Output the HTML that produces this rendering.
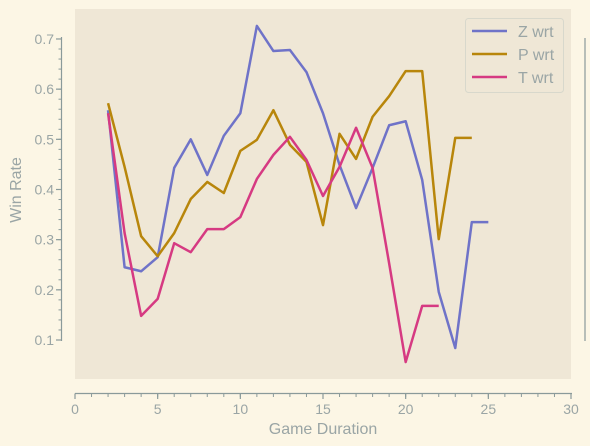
<!DOCTYPE html>
<html><head><meta charset="utf-8"><style>
body{margin:0;background:#fcf6e5;}
svg{display:block;font-family:"Liberation Sans",sans-serif;}
</style></head><body>
<svg id="c" width="590" height="446">
<rect x="0" y="0" width="590" height="446" fill="#fcf6e5"/>
<rect x="75" y="9" width="496" height="370" fill="#efe7d6"/>
<g id="axes"></g>
<g id="lines"></g>
<line x1="585" y1="38" x2="585" y2="341" stroke="#8a9a9a" stroke-width="1.2"/>
<text x="323" y="434" text-anchor="middle" font-size="16" fill="#9aa5a5">Game Duration</text>
<text x="21" y="190" text-anchor="middle" font-size="16" fill="#9aa5a5" transform="rotate(-90 21 190)">Win Rate</text>
<g>
<rect x="465.5" y="18.5" width="98" height="74" rx="3" fill="#efe7d6" stroke="#d8d8cc"/>
<line x1="472" y1="31" x2="507" y2="31" stroke="#6f73c8" stroke-width="2.5"/>
<text x="518" y="37" font-size="16" fill="#9aa5a5">Z wrt</text>
<line x1="472" y1="54" x2="507" y2="54" stroke="#b8860b" stroke-width="2.5"/>
<text x="518" y="60" font-size="16" fill="#9aa5a5">P wrt</text>
<line x1="472" y1="77" x2="507" y2="77" stroke="#d63a82" stroke-width="2.5"/>
<text x="518" y="83" font-size="16" fill="#9aa5a5">T wrt</text>
</g>
</svg>
<script>
const zX=[2,3,4,5,6,7,8,9,10,11,12,13,14,15,16,17,18,19,20,21,22,23,24,25];
const zVals=[0.558,0.245,0.237,0.265,0.443,0.50,0.429,0.507,0.552,0.726,0.676,0.678,0.634,0.552,0.449,0.363,0.443,0.528,0.536,0.419,0.196,0.084,0.335,0.335];
const pX=[2,3,4,5,6,7,8,9,10,11,12,13,14,15,16,17,18,19,20,21,22,23,24];
const pVals=[0.572,0.445,0.307,0.267,0.313,0.381,0.415,0.393,0.477,0.499,0.558,0.489,0.455,0.329,0.511,0.461,0.545,0.586,0.636,0.636,0.301,0.503,0.503];
const tX=[2,3,4,5,6,7,8,9,10,11,12,13,14,15,16,17,18,19,20,21,22];
const tVals=[0.552,0.313,0.148,0.182,0.293,0.275,0.321,0.321,0.345,0.421,0.469,0.505,0.459,0.387,0.445,0.523,0.443,0.253,0.056,0.168,0.168];
const xTicks=[0,5,10,15,20,25,30];
const yTicks=[0.1,0.2,0.3,0.4,0.5,0.6,0.7];
const NS="http://www.w3.org/2000/svg";
const sx=v=>75+v*(496/30);
const sy=v=>340-(v-0.1)*501.7;
const axes=document.getElementById('axes'),lines=document.getElementById('lines');
function mk(tag,attrs,parent){const e=document.createElementNS(NS,tag);for(const k in attrs)e.setAttribute(k,attrs[k]);parent.appendChild(e);return e;}
const col="#8a9a9a",tc="#9aa5a5";
let yl=mk('line',{x1:61.5,y1:37,x2:61.5,y2:341,stroke:col,'stroke-width':1.2},axes);


for(let i=0;i<=30;i++){const v=0.1+i*0.02;if(v>0.705)break;const t=mk('line',{x1:58.5,y1:sy(v),x2:61.5,y2:sy(v),stroke:col,'stroke-width':1},axes);

}
yTicks.forEach(v=>{const t=mk('line',{x1:56,y1:sy(v),x2:61.5,y2:sy(v),stroke:col,'stroke-width':1.2},axes);


const l=mk('text',{x:54,y:sy(v)+5,'text-anchor':'end','font-size':14,fill:tc},axes);l.textContent=v.toFixed(1);

});
let xl=mk('line',{x1:75,y1:393.5,x2:572,y2:393.5,stroke:col,'stroke-width':1.2},axes);


for(let i=0;i<=30;i++){const t=mk('line',{x1:sx(i),y1:393.5,x2:sx(i),y2:397,stroke:col,'stroke-width':1},axes);

}
xTicks.forEach(v=>{const t=mk('line',{x1:sx(v),y1:393.5,x2:sx(v),y2:399,stroke:col,'stroke-width':1.2},axes);


const l=mk('text',{x:sx(v),y:414,'text-anchor':'middle','font-size':14,fill:tc},axes);l.textContent=v;

});
function series(xs,ys,c,name){const p=mk('polyline',{points:xs.map((x,i)=>sx(x)+','+sy(ys[i])).join(' '),fill:'none',stroke:c,'stroke-width':2.5,'stroke-linejoin':'round'},lines);

}
series(zX,zVals,'#6f73c8','z-wrt-line');
series(pX,pVals,'#b8860b','p-wrt-line');
series(tX,tVals,'#d63a82','t-wrt-line');
</script>
</body></html>
